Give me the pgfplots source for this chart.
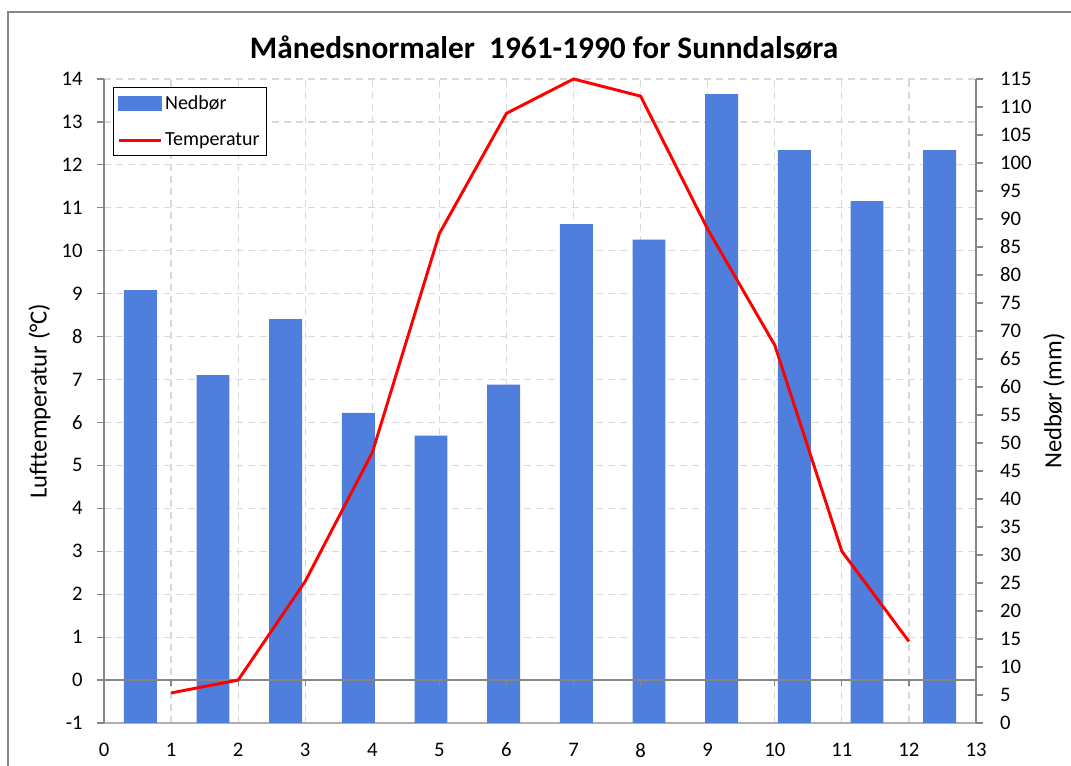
\documentclass[border=0pt]{standalone}
\usepackage{fontspec}
\setmainfont{Carlito}
\usepackage{pgfplots}
\pgfplotsset{compat=1.18}
\definecolor{barblue}{RGB}{79,126,221}
\definecolor{gridgray}{RGB}{217,217,217}
\definecolor{axgray}{RGB}{134,134,134}
\definecolor{botgray}{RGB}{175,175,175}
\begin{document}
\begin{tikzpicture}
\useasboundingbox (0,0) rectangle (803.25pt,574.5pt);
\draw[axgray, line width=1.1pt] (6pt,-2pt) -- (6pt,565.5pt) -- (806pt,565.5pt);
\node[font=\fontsize{23.5}{26}\selectfont\bfseries] at (408pt,538.5pt) {Månedsnormaler\ \ 1961-1990 for Sunndalsøra};
\pgfplotsset{
  base/.style={scale only axis, width=654pt, height=483pt, at={(78pt,32.25pt)}, anchor=south west,
    xmin=0, xmax=13,
    /pgf/number format/assume math mode=true,
    tick label style={font=\fontsize{15.5}{17}\selectfont},
    label style={font=\fontsize{18.5}{21}\selectfont}},
}
% axis 1: grid and left axis
\begin{axis}[base, ymin=-1, ymax=14,
  xtick={0,...,13}, ytick={-1,0,...,14},
  grid=major, grid style={gridgray, dashed, line width=0.9pt, dash pattern=on 5pt off 4pt},
  axis x line*=bottom, axis y line*=left,
  axis line style={axgray, line width=1.1pt, -},
  x axis line style={botgray},
  xtick style={draw=none},
  ytick style={axgray, line width=0.9pt}, tick align=outside, major tick length=5.5pt,
  yticklabel style={xshift=-7pt},
  xticklabel style={yshift=-6pt},
  ylabel={Lufttemperatur (°C)}, ylabel style={yshift=1.5pt},
]
\end{axis}
% axis 2: bars, right axis
\begin{axis}[base, ymin=0, ymax=115,
  axis x line=none, axis y line*=right,
  ytick={0,5,...,115},
  axis line style={axgray, line width=1.1pt, -},
  ytick style={axgray, line width=0.9pt}, tick align=outside, major tick length=5.5pt,
  yticklabel style={xshift=9pt},
  ylabel={Nedbør (mm)}, ylabel style={yshift=-2pt},
]
\addplot[ybar, bar width=0.49, fill=barblue, draw=none] coordinates {
(0.5417,77.3) (1.625,62.1) (2.7083,72.1) (3.7917,55.4) (4.875,51.3) (5.9583,60.4)
(7.0417,89.1) (8.125,86.3) (9.2083,112.3) (10.2917,102.3) (11.375,93.2) (12.4583,102.3)};
\end{axis}
% axis 3: line, zero line, legend
\begin{axis}[base, ymin=-1, ymax=14, hide axis, clip=false,
  legend style={at={(rel axis cs:0.0103,0.9876)}, anchor=north west, draw=black, line width=0.8pt,
    font=\fontsize{15}{17}\selectfont, inner xsep=3pt, inner ysep=4pt, row sep=12pt,
    cells={anchor=west}},
  legend cell align=left,
]
\draw[axgray, line width=1.5pt] (axis cs:0,0) -- (axis cs:13,0);
\pgfplotsinvokeforeach{1,...,12}{\draw[axgray, line width=0.9pt] (axis cs:#1,0) -- ([yshift=-4.5pt]axis cs:#1,0);}
\addlegendimage{legend image code/.code={\fill[barblue] (0pt,-5.25pt) rectangle (31.5pt,5.25pt);}}
\addlegendentry{Nedbør}
\addplot[red, line width=2.2pt, legend image code/.code={\draw[red, line width=2.2pt] (0pt,0pt) -- (31.5pt,0pt);}] coordinates {
(1,-0.3) (2,0.0) (3,2.3) (4,5.3) (5,10.4) (6,13.2) (7,14.0) (8,13.6) (9,10.5) (10,7.8) (11,3.0) (12,0.9)};
\addlegendentry{Temperatur}
\end{axis}
\end{tikzpicture}
\end{document}
